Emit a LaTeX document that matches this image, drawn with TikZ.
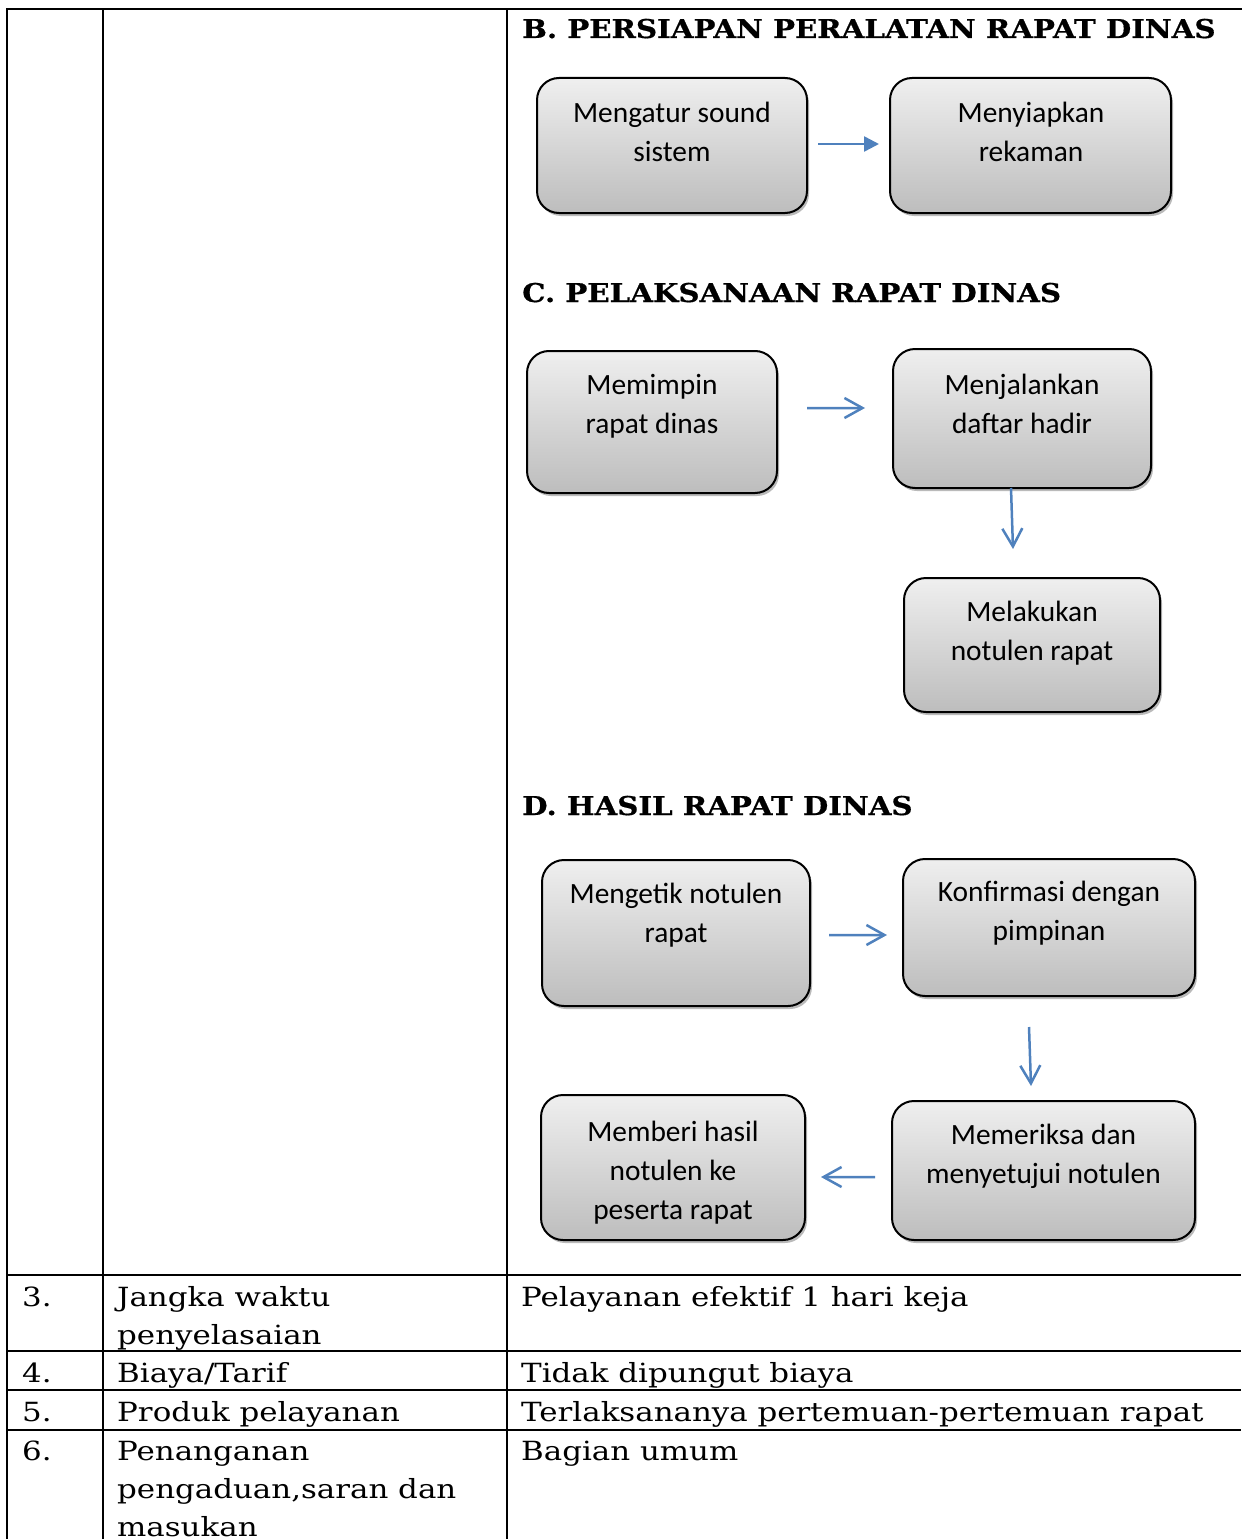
\documentclass[tikz,border=0pt]{standalone}
\usepackage{fontspec}
\setmainfont{DejaVu Serif}[FakeStretch=1.17]
\newfontfamily\headfont{DejaVu Serif}[FakeStretch=1.13, BoldFeatures={FakeBold=0.6}]
\newfontfamily\boxfont{Carlito}
\usetikzlibrary{arrows.meta,shadows,calc}
\definecolor{flowblue}{HTML}{4F81BD}
\definecolor{boxtop}{HTML}{EFEFEF}
\definecolor{boxbot}{HTML}{BDBDBD}
\tikzset{
  rule/.style={line width=2.5bp, line cap=rect},
  procbox/.style={draw=black, line width=2bp, rounded corners=22bp,
    top color=boxtop, bottom color=boxbot,
    drop shadow={shadow xshift=2bp, shadow yshift=-3bp, fill=black!45, opacity=.6}},
  boxtxt/.style={font=\boxfont\fontsize{29.5}{39}\selectfont, align=center, inner sep=0pt},
  heading/.style={font=\headfont\bfseries\fontsize{26}{30}\selectfont, anchor=base west, inner sep=0pt},
  cell/.style={font=\fontsize{26.5}{38}\selectfont, anchor=base west, inner sep=0pt, align=left},
  flow/.style={draw=flowblue, line width=2.5bp, -{Straight Barb[length=18bp,width=20bp,line width=2.5bp]}},
  flowsolid/.style={draw=flowblue, line width=2.5bp, -{Triangle[length=15bp,width=15bp]}},
}
\begin{document}
\begin{tikzpicture}[x=1bp, y=-1bp]
\useasboundingbox (0,0) rectangle (1241,1539);

% table rules
\draw[rule] (7,1539) -- (7,9) -- (1241,9);
\draw[rule] (103,9) -- (103,1539);
\draw[line width=2bp] (507,9) -- (507,1539);
\foreach \yy in {1275,1351,1390,1430}
  \draw[line width=2.2bp] (7,\yy) -- (1241,\yy);

% section headings
\node[heading] (hb) at (522,38) {B. PERSIAPAN PERALATAN RAPAT DINAS};
\node[heading] (hc) at (522,302) {C. PELAKSANAAN RAPAT DINAS};
\node[heading] (hd) at (522,815) {D. HASIL RAPAT DINAS};

% B: equipment
\node[procbox, minimum width=270bp, minimum height=135bp] (b1) at (672,145.5) {};
\node[boxtxt] (t-b1) at (672,132) {Mengatur sound\\sistem};
\node[procbox, minimum width=281bp, minimum height=135bp] (b2) at (1030.5,145.5) {};
\node[boxtxt] (t-b2) at (1031,132) {Menyiapkan\\rekaman};
\draw[flowsolid, shorten <=10bp, shorten >=10bp] ([yshift=1.5bp]b1.east) -- ([yshift=1.5bp]b2.west);

% C: meeting
\node[procbox, minimum width=250bp, minimum height=142bp] (c1) at (652,422) {};
\node[boxtxt] (t-c1) at (652,406) {Memimpin\\rapat dinas};
\node[procbox, minimum width=258bp, minimum height=139bp] (c2) at (1022,418.5) {};
\node[boxtxt] (t-c2) at (1022,404) {Menjalankan\\daftar hadir};
\node[procbox, minimum width=256bp, minimum height=134bp] (c3) at (1032,645) {};
\node[boxtxt] (t-c3) at (1032,633) {Melakukan\\notulen rapat};
\draw[flow, shorten <=29bp, shorten >=27bp] ([yshift=14bp]c1.east) -- ([yshift=10.5bp]c2.west);
\draw[flow] ([xshift=-11bp,yshift=1bp]c2.south) -- ([xshift=-19bp,yshift=28bp]c3.north);

% D: results
\node[procbox, minimum width=268bp, minimum height=146bp] (d1) at (676,933) {};
\node[boxtxt] (t-d1) at (676,915) {Mengetik notulen\\rapat};
\node[procbox, minimum width=292bp, minimum height=137bp] (d2) at (1049,927.5) {};
\node[boxtxt] (t-d2) at (1049,913) {Konfirmasi dengan\\pimpinan};
\node[procbox, minimum width=303bp, minimum height=139bp] (d3) at (1043.5,1170.5) {};
\node[boxtxt] (t-d3) at (1043.5,1156) {Memeriksa dan\\menyetujui notulen};
\node[procbox, minimum width=264bp, minimum height=145bp] (d4) at (673,1167.5) {};
\node[boxtxt] (t-d4) at (673,1173) {Memberi hasil\\notulen ke\\peserta rapat};
\draw[flow, shorten <=18bp, shorten >=15bp] ([yshift=-2bp]d1.east) -- ([yshift=-7.5bp]d2.west);
\draw[flow] ([xshift=-20bp,yshift=-30bp]d2.south) -- ([xshift=-12.5bp,yshift=14bp]d3.north);
\draw[flow, shorten <=16bp, shorten >=15bp] ([yshift=-6.5bp]d3.west) -- ([yshift=-9.5bp]d4.east);

% lower table rows
\node[cell] (n3) at (22,1306) {3.};
\node[cell] (k3) at (117,1306) {Jangka waktu};
\node[cell] (k3b) at (117,1344) {penyelasaian};
\node[cell] (v3) at (521,1306) {Pelayanan efektif 1 hari keja};
\node[cell] (n4) at (22,1382) {4.};
\node[cell] (k4) at (117,1382) {Biaya/Tarif};
\node[cell] (v4) at (521,1382) {Tidak dipungut biaya};
\node[cell] (n5) at (22,1421) {5.};
\node[cell] (k5) at (117,1421) {Produk pelayanan};
\node[cell] (v5) at (521,1421) {Terlaksananya pertemuan-pertemuan rapat};
\node[cell] (n6) at (22,1460) {6.};
\node[cell] (k6) at (117,1460) {Penanganan};
\node[cell] (k6b) at (117,1498) {pengaduan,saran dan};
\node[cell] (k6c) at (117,1536) {masukan};
\node[cell] (v6) at (521,1460) {Bagian umum};
\end{tikzpicture}
\end{document}
